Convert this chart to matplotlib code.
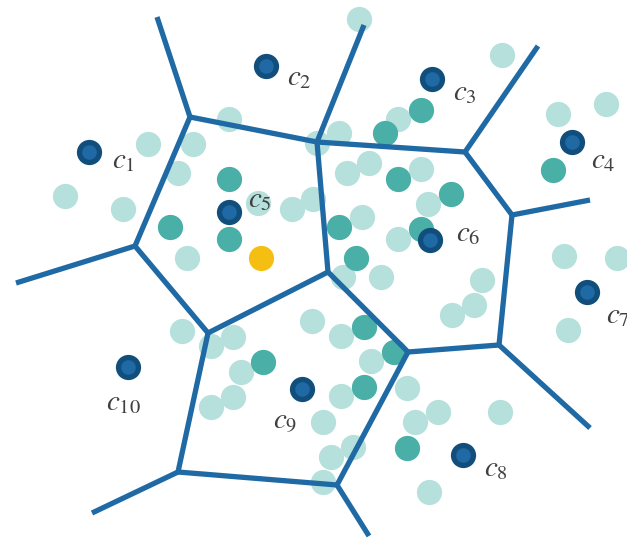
import matplotlib
matplotlib.use("Agg")
import matplotlib.pyplot as plt

# Voronoi-style partition: interior vertices and far ends of unbounded edges
vertex_names = ["A", "B", "C", "D", "E", "F", "G", "H", "I", "J", "K",
                "a", "b", "c", "d", "e", "h", "j", "k"]
vertex_x = [190, 317, 465, 512, 499, 408, 328, 135, 208, 178, 337,
            157, 364, 538, 590, 590, 16, 92, 369]
vertex_y = [117, 142, 152, 215, 345, 352, 272, 246, 333, 472, 485,
            17, 25, 46, 200, 428, 283, 513, 536]
edges = [("A", "B"), ("B", "C"), ("C", "D"), ("D", "E"), ("E", "F"),
         ("F", "G"), ("G", "B"), ("A", "H"), ("H", "I"), ("I", "G"),
         ("I", "J"), ("J", "K"), ("K", "F"),
         ("A", "a"), ("B", "b"), ("C", "c"), ("D", "d"), ("E", "e"),
         ("H", "h"), ("J", "j"), ("K", "k")]

# data points not yet assigned
light_x = [229, 148, 193, 178, 65, 123, 258, 292, 313, 187, 317, 339,
           359, 502, 398, 558, 606, 347, 369, 421, 428, 362, 398, 564, 617,
           182, 211, 233, 312, 241, 233, 211,
           343, 381, 482, 474, 452, 568, 341, 371, 341, 407, 323, 415, 438,
           500, 353, 331, 323, 429]
light_y = [119, 144, 144, 173, 196, 209, 203, 209, 199, 258, 143, 133,
           19, 55, 119, 114, 104, 173, 163, 169, 204, 217, 239, 256, 258,
           331, 346, 337, 321, 372, 397, 407,
           277, 277, 280, 305, 315, 330, 336, 361, 396, 388, 422, 422, 412,
           412, 447, 457, 482, 492]

# points already assigned to a cluster
assigned_x = [229, 170, 229, 421, 385, 553, 398, 451, 339, 421, 356,
              263, 364, 394, 364, 407]
assigned_y = [179, 227, 239, 110, 133, 170, 179, 194, 227, 229, 258,
              362, 327, 352, 387, 448]

# highlighted query point
query_x = [261]
query_y = [258]

# cluster centroids
centroid_labels = ["$c_{1}$", "$c_{2}$", "$c_{3}$", "$c_{4}$", "$c_{5}$",
                   "$c_{6}$", "$c_{7}$", "$c_{8}$", "$c_{9}$", "$c_{10}$"]
centroid_x = [89, 266, 432, 572, 229, 430, 587, 463, 302, 128]
centroid_y = [152, 66, 79, 142, 212, 240, 292, 455, 389, 367]

# label placement relative to each centroid (pixels)
label_dx = [23, 21, 21, 19, 19, 26, 19, 21, -29, -22]
label_dy = [8, 11, 13, 18, -13, -7, 23, 13, 33, 35]

plt.rcParams["mathtext.fontset"] = "stix"

fig = plt.figure(figsize=(6.27, 5.38), dpi=100)
ax = fig.add_axes([0, 0, 1, 1])
ax.set_xlim(0, 627)
ax.set_ylim(538, 0)
ax.axis("off")

ax.scatter(light_x, light_y, s=330, color="#b5e0dc", linewidths=0, zorder=1)
ax.scatter(assigned_x, assigned_y, s=330, color="#4aafa7", linewidths=0, zorder=2)
ax.scatter(query_x, query_y, s=330, color="#f4bf12", linewidths=0, zorder=2)

pos = {n: (x, y) for n, x, y in zip(vertex_names, vertex_x, vertex_y)}
for p, q in edges:
    ax.plot([pos[p][0], pos[q][0]], [pos[p][1], pos[q][1]],
            color="#1f6aa4", lw=3.8, solid_capstyle="butt", zorder=3)

ax.scatter(centroid_x, centroid_y, s=330, color="#124e7c", linewidths=0, zorder=4)
ax.scatter(centroid_x, centroid_y, s=110, color="#1f6aa4", linewidths=0, zorder=5)

for lab, x, y, dx, dy in zip(centroid_labels, centroid_x, centroid_y, label_dx, label_dy):
    ax.text(x + dx, y + dy, lab, fontsize=21, color="#404040",
            ha="left", va="center", zorder=6)

fig.savefig("out.png", dpi=100)
